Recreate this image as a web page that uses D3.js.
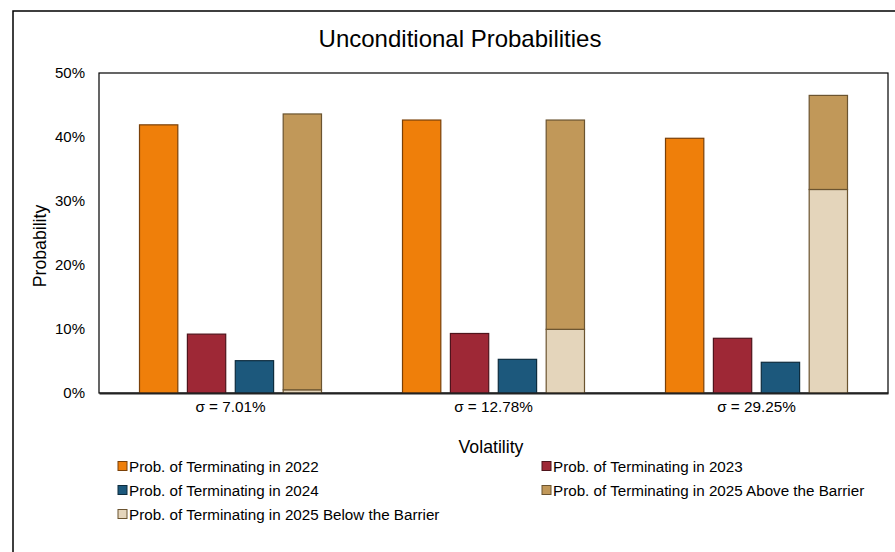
<!DOCTYPE html>
<html><head><meta charset="utf-8">
<script src="https://cdn.jsdelivr.net/npm/d3@7"></script>
<style>body{margin:0;background:#fff;font-family:"Liberation Sans",Arial,sans-serif}</style>
</head><body><svg id="c" width="895" height="552"></svg>
<script>
const categories = ["σ = 7.01%", "σ = 12.78%", "σ = 29.25%"];
const seriesNames = ["Prob. of Terminating in 2022","Prob. of Terminating in 2023","Prob. of Terminating in 2024","Prob. of Terminating in 2025 Above the Barrier","Prob. of Terminating in 2025 Below the Barrier"];
const p2022 = [0.419, 0.4265, 0.398];
const p2023 = [0.092, 0.093, 0.0855];
const p2024 = [0.0505, 0.0526, 0.048];
const p2025Above = [0.431, 0.327, 0.147];
const p2025Below = [0.005, 0.0995, 0.318];
const yTicks = [0, 0.1, 0.2, 0.3, 0.4, 0.5];
const fills = ["#EF7F0A","#9E2836","#1C587C","#C19859","#E4D5BB"];
const strokes = ["#7a4008","#4f141c","#0e2c3e","#6b5430","#6b5430"];

const svg = d3.select("#c");
svg.append("rect").attr("x",13).attr("y",11).attr("width",900).attr("height",560)
  .attr("fill","#fff").attr("stroke","#000").attr("stroke-width",1.5);

const L=99, R=888, T=73, B=393;
const y = d3.scaleLinear().domain([0,0.5]).range([B,T]);
const x0 = d3.scaleBand().domain(categories).range([L,R]).padding(0);
const groupW = 182;
const x1 = d3.scaleBand().domain([0,1,2,3]).range([0,groupW]).paddingInner(0.2).paddingOuter(0);

svg.append("text").attr("x",460).attr("y",47).attr("text-anchor","middle")
  .attr("font-size",24).attr("fill","#000").text("Unconditional Probabilities");

// plot frame
svg.append("rect").attr("x",L).attr("y",T).attr("width",R-L).attr("height",B-T)
  .attr("fill","none").attr("stroke","#000").attr("stroke-width",1.2);

const g = svg.append("g");
categories.forEach((c,i)=>{
  const gx = x0(c) + x0.bandwidth()/2 - groupW/2;
  const simple = [p2022[i], p2023[i], p2024[i]];
  simple.forEach((v,k)=>{
    g.append("rect").attr("x",gx+x1(k)).attr("y",y(v)).attr("width",x1.bandwidth())
      .attr("height",y(0)-y(v)).attr("fill",fills[k]).attr("stroke",strokes[k]).attr("stroke-width",1.2);
  });
  const below = p2025Below[i], above = p2025Above[i];
  g.append("rect").attr("x",gx+x1(3)).attr("y",y(below)).attr("width",x1.bandwidth())
    .attr("height",y(0)-y(below)).attr("fill",fills[4]).attr("stroke",strokes[4]).attr("stroke-width",1.2);
  g.append("rect").attr("x",gx+x1(3)).attr("y",y(below+above)).attr("width",x1.bandwidth())
    .attr("height",y(below)-y(below+above)).attr("fill",fills[3]).attr("stroke",strokes[3]).attr("stroke-width",1.2);
});

// axes
const ya = svg.append("g").attr("transform",`translate(${L},0)`)
  .call(d3.axisLeft(y).tickValues(yTicks).tickFormat(d3.format(".0%")).tickSize(0).tickPadding(14));
ya.select(".domain").remove();
ya.selectAll("text").attr("font-size",15).attr("fill","#000").attr("font-family","Liberation Sans, Arial, sans-serif");

const xa = svg.append("g").attr("transform",`translate(0,${B})`)
  .call(d3.axisBottom(x0).tickSize(0).tickPadding(8));
xa.select(".domain").attr("stroke","#222").attr("stroke-width",2);
xa.selectAll("text").attr("font-size",15.3).attr("fill","#000").attr("font-family","Liberation Sans, Arial, sans-serif");

svg.append("text").attr("transform","translate(46,246) rotate(-90)").attr("text-anchor","middle")
  .attr("font-size",17.7).text("Probability");
svg.append("text").attr("x",491).attr("y",453).attr("text-anchor","middle")
  .attr("font-size",17.7).text("Volatility");

// legend
const legPos = [[118,466],[542,466],[118,490],[542,490],[118,514]];
seriesNames.forEach((n,k)=>{
  const [lx,ly]=legPos[k];
  svg.append("rect").attr("x",lx).attr("y",ly-4.5).attr("width",9).attr("height",9)
    .attr("fill",fills[k]).attr("stroke",strokes[k]).attr("stroke-width",1);
  svg.append("text").attr("x",lx+11).attr("y",ly+5.5).attr("font-size",15.2).text(n);
});
</script></body></html>
